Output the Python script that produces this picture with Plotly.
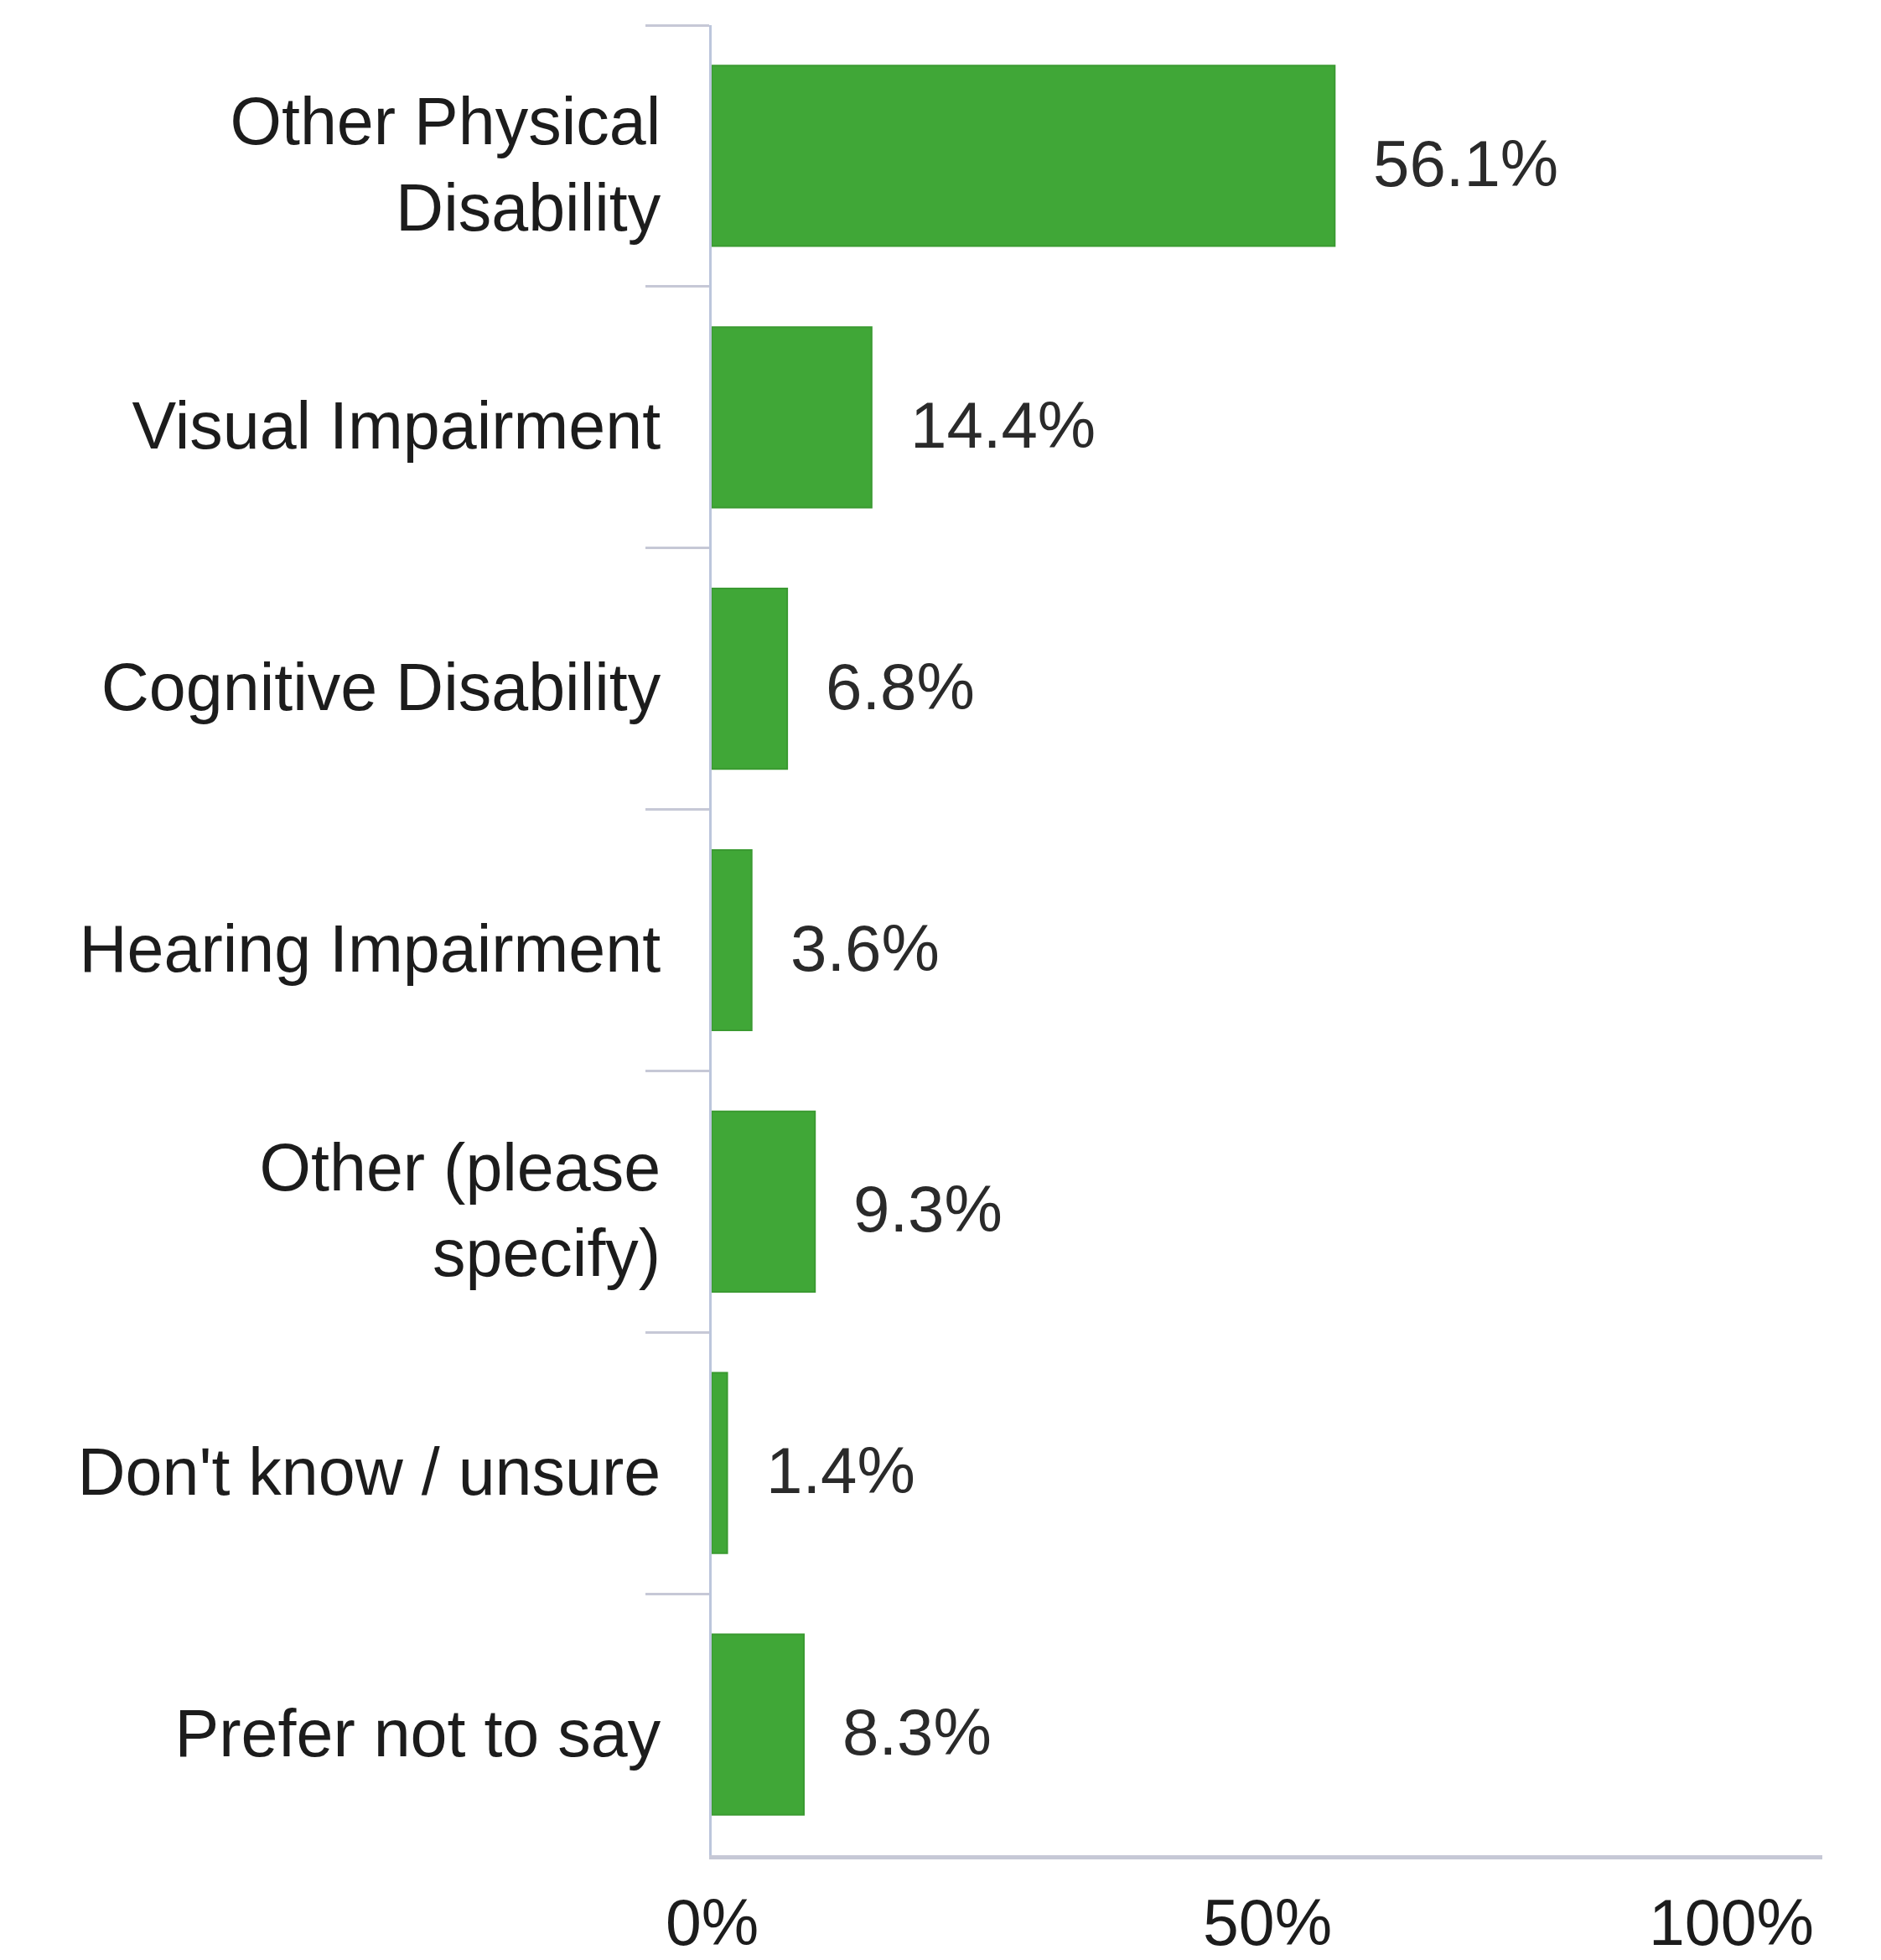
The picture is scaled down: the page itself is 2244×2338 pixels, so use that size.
import plotly.graph_objects as go

categories = [
    "Other Physical<br>Disability",
    "Visual Impairment",
    "Cognitive Disability",
    "Hearing Impairment",
    "Other (please<br>specify)",
    "Don't know / unsure",
    "Prefer not to say",
]
values = [56.1, 14.4, 6.8, 3.6, 9.3, 1.4, 8.3]
value_labels = ["56.1%", "14.4%", "6.8%", "3.6%", "9.3%", "1.4%", "8.3%"]
x_ticks = [0, 50, 100]
x_tick_labels = ["0%", "50%", "100%"]

FONT = "Liberation Sans, Arial, sans-serif"
TXT = "#1c1c1c"
AXIS = "#c6c8d6"

fig = go.Figure(
    go.Bar(
        x=values,
        y=categories,
        orientation="h",
        marker=dict(color="#40a737", line=dict(color="#3a9a31", width=2)),
        hoverinfo="skip",
    )
)

annotations = []
for cat, v, lab in zip(categories, values, value_labels):
    annotations.append(dict(
        x=v, y=cat, xref="x", yref="y", text=lab, showarrow=False,
        xanchor="left", yanchor="middle", xshift=44, yshift=-9,
        font=dict(family=FONT, size=78, color="#2a2a2a"),
    ))
for i, (tv, tl) in enumerate(zip(x_ticks, x_tick_labels)):
    annotations.append(dict(
        x=tv, y=0, xref="x", yref="paper", text=tl, showarrow=False,
        xanchor="right" if i == len(x_ticks) - 1 else "center",
        yanchor="middle", yshift=-80, xshift=-8 if i == len(x_ticks) - 1 else 0,
        font=dict(family=FONT, size=77, color=TXT),
    ))

fig.update_layout(
    width=2244, height=2338,
    margin=dict(l=849, r=70, t=30, b=125, pad=0),
    paper_bgcolor="white", plot_bgcolor="white",
    bargap=0.31,
    showlegend=False,
    annotations=annotations,
    font=dict(family=FONT, size=79, color=TXT),
)
fig.update_xaxes(
    range=[0, 100], showgrid=False, zeroline=False,
    showline=True, linecolor=AXIS, linewidth=5,
    ticks="", showticklabels=False, fixedrange=True,
)
fig.update_yaxes(
    autorange="reversed", showgrid=False, zeroline=False,
    showline=True, linecolor="#bcc6dc", linewidth=3,
    ticks="outside", tickson="boundaries", ticklen=76, tickwidth=3, tickcolor=AXIS,
    ticklabelstandoff=42, ticklabelshift=-10,
    tickfont=dict(family=FONT, size=79, color=TXT),
    fixedrange=True,
)

fig.write_html(
    "out.html",
    config={"displayModeBar": False},
    post_script="document.body.style.margin='0';document.body.style.padding='0';",
)
